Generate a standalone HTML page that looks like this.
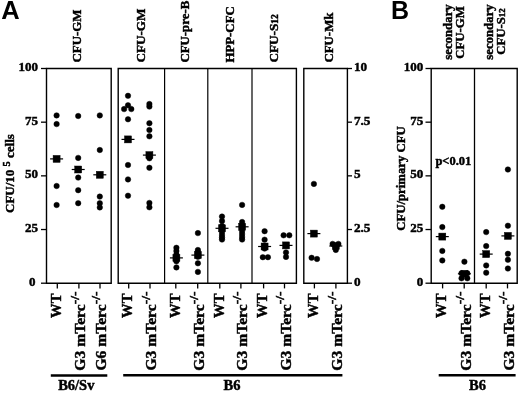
<!DOCTYPE html>
<html><head><meta charset="utf-8"><style>html,body{margin:0;padding:0;background:#fff;width:520px;height:393px;overflow:hidden}svg{display:block;will-change:transform}</style></head>
<body><svg width="520" height="393" viewBox="0 0 520 393"><rect width="520" height="393" fill="#fff"/><g font-family="Liberation Serif" font-weight="bold" stroke="#000" stroke-width="0.45"><text x="1.3" y="19.3" font-family="Liberation Sans" font-weight="bold" font-size="25.5" stroke-width="0">A</text>
<text x="391.0" y="19.3" font-family="Liberation Sans" font-weight="bold" font-size="25" stroke-width="0">B</text>
<path d="M46.5 68.5 H111.2 V283.2 H46.5 Z" fill="none" stroke="#000" stroke-width="1.4"/>
<path d="M118.2 68.5 H296.4 V283.2 H118.2 Z" fill="none" stroke="#000" stroke-width="1.4"/>
<path d="M303.8 68.5 H347.4 V283.2 H303.8 Z" fill="none" stroke="#000" stroke-width="1.4"/>
<path d="M431.2 68.5 H517.2 V283.2 H431.2 Z" fill="none" stroke="#000" stroke-width="1.4"/>
<line x1="164.6" y1="68.5" x2="164.6" y2="283.2" stroke="#000" stroke-width="1.2"/>
<line x1="207.8" y1="68.5" x2="207.8" y2="283.2" stroke="#000" stroke-width="1.2"/>
<line x1="252.0" y1="68.5" x2="252.0" y2="283.2" stroke="#000" stroke-width="1.2"/>
<line x1="474.5" y1="68.5" x2="474.5" y2="283.2" stroke="#000" stroke-width="1.3"/>
<line x1="41.0" y1="283.2" x2="46.5" y2="283.2" stroke="#000" stroke-width="1.3"/>
<text x="35.6" y="285.8" font-size="13" text-anchor="end" >0</text>
<line x1="41.0" y1="229.52499999999998" x2="46.5" y2="229.52499999999998" stroke="#000" stroke-width="1.3"/>
<text x="37.9" y="232.12499999999997" font-size="13" text-anchor="end" >25</text>
<line x1="41.0" y1="175.85" x2="46.5" y2="175.85" stroke="#000" stroke-width="1.3"/>
<text x="37.9" y="178.45" font-size="13" text-anchor="end" >50</text>
<line x1="41.0" y1="122.17499999999998" x2="46.5" y2="122.17499999999998" stroke="#000" stroke-width="1.3"/>
<text x="37.9" y="124.77499999999998" font-size="13" text-anchor="end" >75</text>
<line x1="41.0" y1="68.5" x2="46.5" y2="68.5" stroke="#000" stroke-width="1.3"/>
<text x="37.9" y="71.1" font-size="13" text-anchor="end" >100</text>
<line x1="347.4" y1="283.2" x2="352" y2="283.2" stroke="#000" stroke-width="1.3"/>
<text x="353.9" y="285.59999999999997" font-size="13.2" text-anchor="start" >0</text>
<line x1="347.4" y1="229.52499999999998" x2="352" y2="229.52499999999998" stroke="#000" stroke-width="1.3"/>
<text x="353.9" y="231.92499999999998" font-size="13.2" text-anchor="start" >2.5</text>
<line x1="347.4" y1="175.85" x2="352" y2="175.85" stroke="#000" stroke-width="1.3"/>
<text x="353.9" y="178.25" font-size="13.2" text-anchor="start" >5</text>
<line x1="347.4" y1="122.17499999999998" x2="352" y2="122.17499999999998" stroke="#000" stroke-width="1.3"/>
<text x="353.9" y="124.57499999999999" font-size="13.2" text-anchor="start" >7.5</text>
<line x1="347.4" y1="68.5" x2="352" y2="68.5" stroke="#000" stroke-width="1.3"/>
<text x="353.9" y="70.9" font-size="13.2" text-anchor="start" >10</text>
<line x1="425.5" y1="283.2" x2="431.2" y2="283.2" stroke="#000" stroke-width="1.3"/>
<text x="423.3" y="285.8" font-size="13" text-anchor="end" >0</text>
<line x1="425.5" y1="229.52499999999998" x2="431.2" y2="229.52499999999998" stroke="#000" stroke-width="1.3"/>
<text x="423.3" y="232.12499999999997" font-size="13" text-anchor="end" >25</text>
<line x1="425.5" y1="175.85" x2="431.2" y2="175.85" stroke="#000" stroke-width="1.3"/>
<text x="423.3" y="178.45" font-size="13" text-anchor="end" >50</text>
<line x1="425.5" y1="122.17499999999998" x2="431.2" y2="122.17499999999998" stroke="#000" stroke-width="1.3"/>
<text x="423.3" y="124.77499999999998" font-size="13" text-anchor="end" >75</text>
<line x1="425.5" y1="68.5" x2="431.2" y2="68.5" stroke="#000" stroke-width="1.3"/>
<text x="423.3" y="71.1" font-size="13" text-anchor="end" >100</text>
<line x1="57.3" y1="283.2" x2="57.3" y2="288.4" stroke="#000" stroke-width="1.3"/>
<line x1="78.9" y1="283.2" x2="78.9" y2="288.4" stroke="#000" stroke-width="1.3"/>
<line x1="100.0" y1="283.2" x2="100.0" y2="288.4" stroke="#000" stroke-width="1.3"/>
<line x1="128.7" y1="283.2" x2="128.7" y2="288.4" stroke="#000" stroke-width="1.3"/>
<line x1="150.0" y1="283.2" x2="150.0" y2="288.4" stroke="#000" stroke-width="1.3"/>
<line x1="175.8" y1="283.2" x2="175.8" y2="288.4" stroke="#000" stroke-width="1.3"/>
<line x1="197.7" y1="283.2" x2="197.7" y2="288.4" stroke="#000" stroke-width="1.3"/>
<line x1="219.8" y1="283.2" x2="219.8" y2="288.4" stroke="#000" stroke-width="1.3"/>
<line x1="240.9" y1="283.2" x2="240.9" y2="288.4" stroke="#000" stroke-width="1.3"/>
<line x1="263.6" y1="283.2" x2="263.6" y2="288.4" stroke="#000" stroke-width="1.3"/>
<line x1="284.5" y1="283.2" x2="284.5" y2="288.4" stroke="#000" stroke-width="1.3"/>
<line x1="314.4" y1="283.2" x2="314.4" y2="288.4" stroke="#000" stroke-width="1.3"/>
<line x1="335.9" y1="283.2" x2="335.9" y2="288.4" stroke="#000" stroke-width="1.3"/>
<line x1="442.6" y1="283.2" x2="442.6" y2="288.4" stroke="#000" stroke-width="1.3"/>
<line x1="464.2" y1="283.2" x2="464.2" y2="288.4" stroke="#000" stroke-width="1.3"/>
<line x1="486.2" y1="283.2" x2="486.2" y2="288.4" stroke="#000" stroke-width="1.3"/>
<line x1="507.5" y1="283.2" x2="507.5" y2="288.4" stroke="#000" stroke-width="1.3"/>
<circle cx="56.6" cy="115.4" r="2.75"/>
<circle cx="56.6" cy="124.1" r="2.75"/>
<circle cx="56.6" cy="186" r="2.75"/>
<circle cx="56.6" cy="205" r="2.75"/>
<circle cx="78.2" cy="116" r="2.75"/>
<circle cx="78.2" cy="157.9" r="2.75"/>
<circle cx="78.2" cy="177.6" r="2.75"/>
<circle cx="78.2" cy="190.2" r="2.75"/>
<circle cx="78.2" cy="203.2" r="2.75"/>
<circle cx="99.8" cy="115.4" r="2.75"/>
<circle cx="99.8" cy="150" r="2.75"/>
<circle cx="99.8" cy="196.6" r="2.75"/>
<circle cx="99.8" cy="203.2" r="2.75"/>
<circle cx="99.8" cy="207.4" r="2.75"/>
<circle cx="128.0" cy="95.8" r="2.75"/>
<circle cx="128.0" cy="105.3" r="2.75"/>
<circle cx="128.0" cy="119.3" r="2.75"/>
<circle cx="128.0" cy="165" r="2.75"/>
<circle cx="128.0" cy="179.4" r="2.75"/>
<circle cx="128.0" cy="195.7" r="2.75"/>
<circle cx="149.4" cy="104" r="2.75"/>
<circle cx="149.4" cy="106.6" r="2.75"/>
<circle cx="149.4" cy="123.2" r="2.75"/>
<circle cx="149.4" cy="130" r="2.75"/>
<circle cx="149.4" cy="136.3" r="2.75"/>
<circle cx="149.4" cy="158.3" r="2.75"/>
<circle cx="149.4" cy="167.8" r="2.75"/>
<circle cx="149.4" cy="202.9" r="2.75"/>
<circle cx="149.4" cy="207.3" r="2.75"/>
<circle cx="176.4" cy="247.8" r="2.75"/>
<circle cx="176.4" cy="251" r="2.75"/>
<circle cx="176.4" cy="254.5" r="2.75"/>
<circle cx="176.4" cy="257" r="2.75"/>
<circle cx="176.4" cy="259" r="2.75"/>
<circle cx="176.4" cy="261.3" r="2.75"/>
<circle cx="176.4" cy="267.4" r="2.75"/>
<circle cx="197.9" cy="233.1" r="2.75"/>
<circle cx="197.9" cy="250" r="2.75"/>
<circle cx="197.9" cy="252" r="2.75"/>
<circle cx="197.9" cy="254" r="2.75"/>
<circle cx="197.9" cy="256.8" r="2.75"/>
<circle cx="197.9" cy="263.3" r="2.75"/>
<circle cx="197.9" cy="271.9" r="2.75"/>
<circle cx="222.0" cy="216.6" r="2.75"/>
<circle cx="222.0" cy="221.1" r="2.75"/>
<circle cx="222.0" cy="226" r="2.75"/>
<circle cx="222.0" cy="229" r="2.75"/>
<circle cx="222.0" cy="232" r="2.75"/>
<circle cx="222.0" cy="235" r="2.75"/>
<circle cx="222.0" cy="237.5" r="2.75"/>
<circle cx="222.0" cy="239.5" r="2.75"/>
<circle cx="242.1" cy="204.9" r="2.75"/>
<circle cx="242.1" cy="222" r="2.75"/>
<circle cx="242.1" cy="225" r="2.75"/>
<circle cx="242.1" cy="228" r="2.75"/>
<circle cx="242.1" cy="231" r="2.75"/>
<circle cx="242.1" cy="234" r="2.75"/>
<circle cx="242.1" cy="237" r="2.75"/>
<circle cx="242.1" cy="239.5" r="2.75"/>
<circle cx="264.6" cy="231.2" r="2.75"/>
<circle cx="264.6" cy="239.7" r="2.75"/>
<circle cx="264.6" cy="248.6" r="2.75"/>
<circle cx="286.0" cy="252.4" r="2.75"/>
<circle cx="286.0" cy="256.9" r="2.75"/>
<circle cx="313.9" cy="183.9" r="2.75"/>
<circle cx="335.8" cy="249.9" r="2.75"/>
<circle cx="335.8" cy="247.4" r="2.75"/>
<circle cx="442.3" cy="206.8" r="2.75"/>
<circle cx="442.3" cy="227.1" r="2.75"/>
<circle cx="442.3" cy="250.9" r="2.75"/>
<circle cx="442.3" cy="260.4" r="2.75"/>
<circle cx="464.4" cy="261.7" r="2.75"/>
<circle cx="486.2" cy="232.1" r="2.75"/>
<circle cx="486.2" cy="246.1" r="2.75"/>
<circle cx="486.2" cy="265.4" r="2.75"/>
<circle cx="486.2" cy="272.7" r="2.75"/>
<circle cx="507.9" cy="169.5" r="2.75"/>
<circle cx="507.9" cy="225.7" r="2.75"/>
<circle cx="507.9" cy="253.8" r="2.75"/>
<circle cx="507.9" cy="259.8" r="2.75"/>
<circle cx="507.9" cy="268.5" r="2.75"/>
<circle cx="262.8" cy="257.2" r="2.75"/>
<circle cx="267.9" cy="257.2" r="2.75"/>
<circle cx="283.6" cy="235.3" r="2.75"/>
<circle cx="289.3" cy="235.3" r="2.75"/>
<circle cx="311.6" cy="257.8" r="2.75"/>
<circle cx="317.0" cy="259.0" r="2.75"/>
<circle cx="332.6" cy="243.9" r="2.75"/>
<circle cx="338.4" cy="243.9" r="2.75"/>
<circle cx="461.5" cy="273.2" r="2.75"/>
<circle cx="467.3" cy="273.2" r="2.75"/>
<circle cx="461.5" cy="278.3" r="2.75"/>
<circle cx="467.3" cy="278.3" r="2.75"/>
<circle cx="124.1" cy="109.1" r="2.75"/>
<circle cx="131.3" cy="109.1" r="2.75"/>
<rect x="53.1" y="155.4" width="7.0" height="7.0"/>
<line x1="50.1" y1="158.9" x2="63.1" y2="158.9" stroke="#000" stroke-width="1.2"/>
<rect x="74.7" y="166.0" width="7.0" height="7.0"/>
<line x1="71.7" y1="169.5" x2="84.7" y2="169.5" stroke="#000" stroke-width="1.2"/>
<rect x="96.3" y="171.3" width="7.0" height="7.0"/>
<line x1="93.3" y1="174.8" x2="106.3" y2="174.8" stroke="#000" stroke-width="1.2"/>
<rect x="124.5" y="135.9" width="7.0" height="7.0"/>
<line x1="121.5" y1="139.4" x2="134.5" y2="139.4" stroke="#000" stroke-width="1.2"/>
<rect x="145.9" y="151.6" width="7.0" height="7.0"/>
<line x1="142.9" y1="155.1" x2="155.9" y2="155.1" stroke="#000" stroke-width="1.2"/>
<rect x="172.9" y="254.39999999999998" width="7.0" height="7.0"/>
<line x1="169.9" y1="257.9" x2="182.9" y2="257.9" stroke="#000" stroke-width="1.2"/>
<rect x="194.4" y="251.6" width="7.0" height="7.0"/>
<line x1="191.4" y1="255.1" x2="204.4" y2="255.1" stroke="#000" stroke-width="1.2"/>
<rect x="218.5" y="224.8" width="7.0" height="7.0"/>
<line x1="215.5" y1="228.3" x2="228.5" y2="228.3" stroke="#000" stroke-width="1.2"/>
<rect x="238.6" y="223.3" width="7.0" height="7.0"/>
<line x1="235.6" y1="226.8" x2="248.6" y2="226.8" stroke="#000" stroke-width="1.2"/>
<rect x="261.1" y="243.0" width="7.0" height="7.0"/>
<line x1="258.1" y1="246.5" x2="271.1" y2="246.5" stroke="#000" stroke-width="1.2"/>
<rect x="282.5" y="241.9" width="7.0" height="7.0"/>
<line x1="279.5" y1="245.4" x2="292.5" y2="245.4" stroke="#000" stroke-width="1.2"/>
<rect x="310.4" y="230.1" width="7.0" height="7.0"/>
<line x1="307.4" y1="233.6" x2="320.4" y2="233.6" stroke="#000" stroke-width="1.2"/>
<rect x="332.3" y="242.5" width="7.0" height="7.0"/>
<line x1="329.3" y1="246.0" x2="342.3" y2="246.0" stroke="#000" stroke-width="1.2"/>
<rect x="438.8" y="233.1" width="7.0" height="7.0"/>
<line x1="435.8" y1="236.6" x2="448.8" y2="236.6" stroke="#000" stroke-width="1.2"/>
<rect x="460.9" y="270.3" width="7.0" height="7.0"/>
<line x1="457.9" y1="273.8" x2="470.9" y2="273.8" stroke="#000" stroke-width="1.2"/>
<rect x="482.7" y="250.6" width="7.0" height="7.0"/>
<line x1="479.7" y1="254.1" x2="492.7" y2="254.1" stroke="#000" stroke-width="1.2"/>
<rect x="504.4" y="232.4" width="7.0" height="7.0"/>
<line x1="501.4" y1="235.9" x2="514.4" y2="235.9" stroke="#000" stroke-width="1.2"/>
<text x="80.9" y="62.6" font-size="13.2" text-anchor="start" transform="rotate(-90 80.9 62.6)" textLength="53.2" lengthAdjust="spacingAndGlyphs" >CFU-GM</text>
<text x="145.4" y="62.6" font-size="13.2" text-anchor="start" transform="rotate(-90 145.4 62.6)" textLength="54.1" lengthAdjust="spacingAndGlyphs" >CFU-GM</text>
<text x="189.4" y="62.6" font-size="13.2" text-anchor="start" transform="rotate(-90 189.4 62.6)" textLength="61.9" lengthAdjust="spacingAndGlyphs" >CFU-pre-B</text>
<text x="234.2" y="62.6" font-size="13.2" text-anchor="start" transform="rotate(-90 234.2 62.6)" textLength="56.4" lengthAdjust="spacingAndGlyphs" >HPP-CFC</text>
<text x="277.8" y="62.6" font-size="13.2" text-anchor="start" transform="rotate(-90 277.8 62.6)" >CFU-S<tspan font-size="9.5" dy="0.6">12</tspan></text>
<text x="332.6" y="62.6" font-size="13.2" text-anchor="start" transform="rotate(-90 332.6 62.6)" textLength="50.1" lengthAdjust="spacingAndGlyphs" >CFU-Mk</text>
<text x="451.7" y="32" font-size="12.8" text-anchor="middle" transform="rotate(-90 451.7 32)" >secondary</text>
<text x="463.9" y="32.5" font-size="12.8" text-anchor="middle" transform="rotate(-90 463.9 32.5)" >CFU-GM</text>
<text x="492.5" y="32" font-size="12.8" text-anchor="middle" transform="rotate(-90 492.5 32)" >secondary</text>
<text x="505.3" y="31.5" font-size="12.8" text-anchor="middle" transform="rotate(-90 505.3 31.5)" >CFU-S<tspan font-size="9">12</tspan></text>
<text x="14.4" y="213.0" font-size="13" text-anchor="start" transform="rotate(-90 14.4 213.0)" >CFU/10 <tspan font-size="10.5" dy="-4.5">5</tspan><tspan dy="4.5"> cells</tspan></text>
<text x="404.6" y="230.8" font-size="12.8" text-anchor="start" transform="rotate(-90 404.6 230.8)" textLength="104.6" lengthAdjust="spacingAndGlyphs" >CFU/primary CFU</text>
<text x="435.4" y="165.4" font-size="12.6" text-anchor="start" textLength="35.9" lengthAdjust="spacingAndGlyphs" >p&lt;0.01</text>
<text x="61.099999999999994" y="293.6" font-size="14.6" text-anchor="end" transform="rotate(-90 61.099999999999994 293.6)">WT</text>
<text x="132.5" y="293.6" font-size="14.6" text-anchor="end" transform="rotate(-90 132.5 293.6)">WT</text>
<text x="179.60000000000002" y="293.6" font-size="14.6" text-anchor="end" transform="rotate(-90 179.60000000000002 293.6)">WT</text>
<text x="223.60000000000002" y="293.6" font-size="14.6" text-anchor="end" transform="rotate(-90 223.60000000000002 293.6)">WT</text>
<text x="267.40000000000003" y="293.6" font-size="14.6" text-anchor="end" transform="rotate(-90 267.40000000000003 293.6)">WT</text>
<text x="318.2" y="293.6" font-size="14.6" text-anchor="end" transform="rotate(-90 318.2 293.6)">WT</text>
<text x="446.40000000000003" y="293.6" font-size="14.6" text-anchor="end" transform="rotate(-90 446.40000000000003 293.6)">WT</text>
<text x="490.0" y="293.6" font-size="14.6" text-anchor="end" transform="rotate(-90 490.0 293.6)">WT</text>
<text x="85.4" y="291.6" font-size="15.6" text-anchor="end" transform="rotate(-90 85.4 291.6)">G3 mTerc<tspan font-size="13.5" dy="-6.5">-/-</tspan></text>
<text x="156.5" y="291.6" font-size="15.6" text-anchor="end" transform="rotate(-90 156.5 291.6)">G3 mTerc<tspan font-size="13.5" dy="-6.5">-/-</tspan></text>
<text x="204.2" y="291.6" font-size="15.6" text-anchor="end" transform="rotate(-90 204.2 291.6)">G3 mTerc<tspan font-size="13.5" dy="-6.5">-/-</tspan></text>
<text x="247.4" y="291.6" font-size="15.6" text-anchor="end" transform="rotate(-90 247.4 291.6)">G3 mTerc<tspan font-size="13.5" dy="-6.5">-/-</tspan></text>
<text x="291.0" y="291.6" font-size="15.6" text-anchor="end" transform="rotate(-90 291.0 291.6)">G3 mTerc<tspan font-size="13.5" dy="-6.5">-/-</tspan></text>
<text x="342.4" y="291.6" font-size="15.6" text-anchor="end" transform="rotate(-90 342.4 291.6)">G3 mTerc<tspan font-size="13.5" dy="-6.5">-/-</tspan></text>
<text x="470.7" y="291.6" font-size="15.6" text-anchor="end" transform="rotate(-90 470.7 291.6)">G3 mTerc<tspan font-size="13.5" dy="-6.5">-/-</tspan></text>
<text x="514.0" y="291.6" font-size="15.6" text-anchor="end" transform="rotate(-90 514.0 291.6)">G3 mTerc<tspan font-size="13.5" dy="-6.5">-/-</tspan></text>
<text x="106.5" y="291.6" font-size="15.6" text-anchor="end" transform="rotate(-90 106.5 291.6)">G6 mTerc<tspan font-size="13.5" dy="-6.5">-/-</tspan></text>
<line x1="50.8" y1="375.5" x2="107.3" y2="375.5" stroke="#000" stroke-width="2.4"/>
<line x1="123.2" y1="375.3" x2="342.4" y2="375.3" stroke="#000" stroke-width="2.4"/>
<line x1="438.7" y1="375.3" x2="515.6" y2="375.3" stroke="#000" stroke-width="2.4"/>
<text x="76.3" y="390.3" font-size="14.5" text-anchor="middle" >B6/Sv</text>
<text x="232.0" y="390.3" font-size="14.5" text-anchor="middle" >B6</text>
<text x="477.5" y="390.3" font-size="14.5" text-anchor="middle" >B6</text></g></svg></body></html>
